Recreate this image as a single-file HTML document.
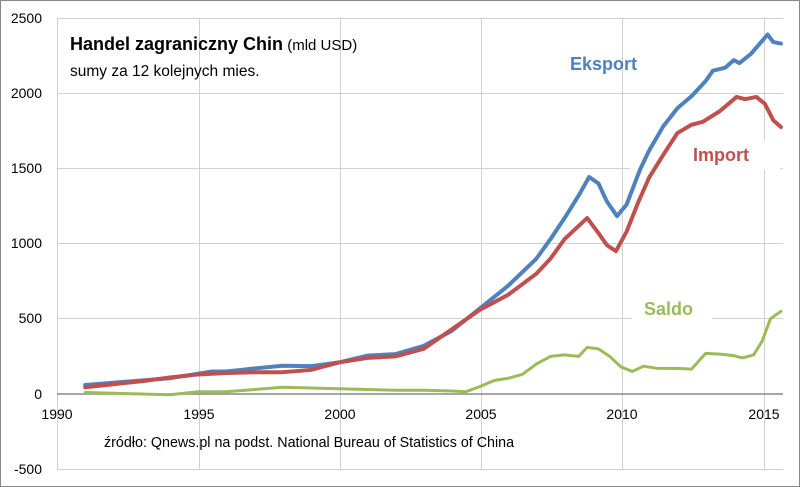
<!DOCTYPE html>
<html><head><meta charset="utf-8"><style>
body{margin:0;background:#fff;}
svg{display:block;font-family:"Liberation Sans",sans-serif;}
</style></head><body>
<svg width="800" height="487" viewBox="0 0 800 487">
<rect x="0.5" y="0.5" width="799" height="486" fill="#fff" stroke="#888"/>
<g stroke="#d0d0d0" stroke-width="1">
<line x1="57" y1="18.5" x2="783" y2="18.5"/><line x1="57" y1="93.5" x2="783" y2="93.5"/>
<line x1="57" y1="168.5" x2="783" y2="168.5"/><line x1="57" y1="243.5" x2="783" y2="243.5"/>
<line x1="57" y1="318.5" x2="783" y2="318.5"/><line x1="57" y1="469.5" x2="783" y2="469.5"/>
<line x1="57.5" y1="18" x2="57.5" y2="469"/><line x1="199.5" y1="18" x2="199.5" y2="469"/>
<line x1="340.5" y1="18" x2="340.5" y2="469"/><line x1="481.5" y1="18" x2="481.5" y2="469"/>
<line x1="622.5" y1="18" x2="622.5" y2="469"/><line x1="764.5" y1="18" x2="764.5" y2="469"/>
</g>
<line x1="57" y1="394" x2="783" y2="394" stroke="#888" stroke-width="1.5"/>
<g font-size="14" fill="#000" text-anchor="end">
<text x="42" y="23">2500</text><text x="42" y="98">2000</text><text x="42" y="173">1500</text>
<text x="42" y="248">1000</text><text x="42" y="323">500</text><text x="42" y="399">0</text><text x="42" y="474">-500</text>
</g>
<g font-size="14" fill="#000" text-anchor="middle">
<text x="57" y="419">1990</text><text x="199" y="419">1995</text><text x="340" y="419">2000</text>
<text x="481" y="419">2005</text><text x="622" y="419">2010</text><text x="764" y="419">2015</text>
</g>
<rect x="630" y="140" width="150" height="30" fill="#fff"/>
<rect x="632" y="295" width="80" height="28" fill="#fff"/>
<g fill="none" stroke-linejoin="round" stroke-linecap="round" transform="translate(57,394) scale(28.2,-0.1504)">
<polyline vector-effect="non-scaling-stroke" stroke="#9bbb59" stroke-width="3" points="1,10 2,5 3,0 4,-5 5,15 6,15 7,30 8,45 9,40 10,35 11,30 12,25 13,25 14,20 14.5,15 15,50 15.5,90 16,105 16.5,130 17,200 17.5,250 18,260 18.5,250 18.8,310 19.2,300 19.6,250 20,180 20.4,150 20.8,185 21.3,170 22,170 22.5,165 23,270 23.5,265 24,255 24.3,240 24.7,260 25,350 25.3,500 25.67,550"/>
<polyline vector-effect="non-scaling-stroke" stroke="#4f81bd" stroke-width="4" points="1,60 2,75 3,90 4,105 5,135 5.5,150 6,150 7,170 8,188 9,185 10,210 11,255 12,265 13,320 14,420 15,570 16,720 17,900 17.5,1030 18,1170 18.5,1320 18.87,1443 19.2,1400 19.5,1280 19.86,1183 20.2,1260 20.67,1490 21,1620 21.5,1780 22,1900 22.5,1980 23,2080 23.26,2150 23.7,2170 24,2220 24.2,2200 24.6,2260 25.2,2390 25.4,2340 25.67,2330"/>
<polyline vector-effect="non-scaling-stroke" stroke="#c0504d" stroke-width="4" points="1,45 2,65 3,85 4,110 5,130 6,140 7,145 8,145 9,160 10,210 11,240 12,250 13,300 14,430 15,560 16,660 17,800 17.5,900 18,1030 18.8,1170 19.2,1070 19.5,990 19.82,950 20.2,1080 20.6,1270 21,1440 21.5,1590 22,1735 22.5,1790 22.9,1810 23.5,1880 24.1,1975 24.4,1960 24.8,1975 25.1,1930 25.4,1820 25.67,1775"/>
</g>
<text x="570" y="70" font-size="18" font-weight="bold" fill="#4f81bd">Eksport</text>
<text x="693" y="161" font-size="18" font-weight="bold" fill="#c0504d">Import</text>
<text x="644" y="315" font-size="18" font-weight="bold" fill="#9bbb59">Saldo</text>
<text x="70" y="50" font-size="18" fill="#000"><tspan font-weight="bold">Handel zagraniczny Chin</tspan><tspan font-size="15"> (mld USD)</tspan></text>
<text x="70" y="76" font-size="15.5" fill="#000">sumy za 12 kolejnych  mies.</text>
<text x="104" y="447" font-size="14.3" fill="#000">źródło: Qnews.pl  na podst. National Bureau of Statistics of China</text>
</svg>
</body></html>
